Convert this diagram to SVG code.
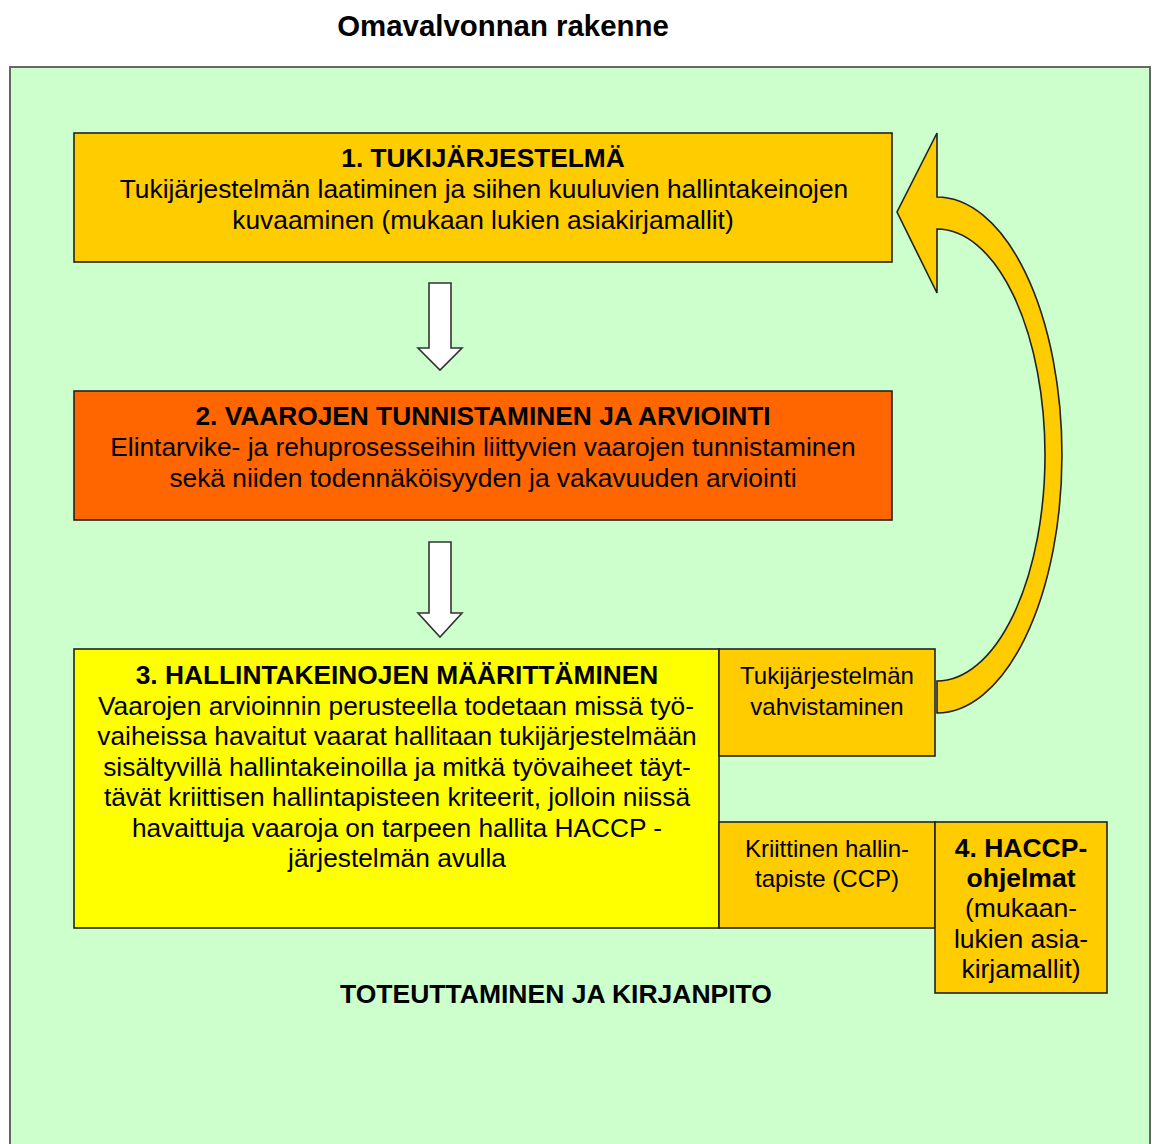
<svg xmlns="http://www.w3.org/2000/svg" width="1152" height="1144" viewBox="0 0 1152 1144">
<style>
  .box { stroke: #222; stroke-width: 1.6; }
  .t { font-family: "Liberation Sans", Arial, sans-serif; font-size: 26.3px; fill: #000; text-anchor: middle; }
  .b { font-weight: bold; }
  .s { font-size: 24px; }
  .h { font-size: 26.5px; }
  .dn { fill: #fff; stroke: #333; stroke-width: 1.6; stroke-linejoin: miter; }
</style>
<rect x="0" y="0" width="1152" height="1144" fill="#fff"/>
<text class="t b" x="503" y="36" style="font-size:29.4px">Omavalvonnan rakenne</text>
<rect x="10" y="67" width="1140" height="1090" fill="#CCFFCC" stroke="#666" stroke-width="2"/>

<g id="connectors">
  <path id="loop-arrow" d="M937,133 L897,212 L937,293 L937,229 A108,226 0 0 1 937,681 L937,713 A125,258 0 0 0 937,197 Z" fill="#FFCC00" stroke="#222" stroke-width="1.6" stroke-linejoin="miter"/>
  <polygon class="dn" points="429,283 451,283 451,348 462,348 440,370 418,348 429,348"/>
  <polygon class="dn" points="429,542 451,542 451,613 462,613 440,637 418,613 429,613"/>
</g>

<g id="node1">
  <rect class="box" x="74" y="133" width="818" height="129" fill="#FFCC00"/>
  <text class="t b" x="483" y="167">1. TUKIJÄRJESTELMÄ</text>
  <text class="t" x="484" y="198">Tukijärjestelmän laatiminen ja siihen kuuluvien hallintakeinojen</text>
  <text class="t" x="483" y="229">kuvaaminen (mukaan lukien asiakirjamallit)</text>
</g>

<g id="node2">
  <rect class="box" x="74" y="391" width="818" height="129" fill="#FF6600"/>
  <text class="t b" x="483" y="425">2. VAAROJEN TUNNISTAMINEN JA ARVIOINTI</text>
  <text class="t" x="483" y="456">Elintarvike- ja rehuprosesseihin liittyvien vaarojen tunnistaminen</text>
  <text class="t" x="483" y="487">sekä niiden todennäköisyyden ja vakavuuden arviointi</text>
</g>

<g id="node3">
  <rect class="box" x="74" y="649" width="645" height="279" fill="#FFFF00"/>
  <text class="t b" x="397" y="684">3. HALLINTAKEINOJEN MÄÄRITTÄMINEN</text>
  <text class="t" x="396" y="715">Vaarojen arvioinnin perusteella todetaan missä työ-</text>
  <text class="t" x="397" y="745">vaiheissa havaitut vaarat hallitaan tukijärjestelmään</text>
  <text class="t" x="397" y="776">sisältyvillä hallintakeinoilla ja mitkä työvaiheet täyt-</text>
  <text class="t" x="397" y="806">tävät kriittisen hallintapisteen kriteerit, jolloin niissä</text>
  <text class="t" x="397" y="837">havaittuja vaaroja on tarpeen hallita HACCP -</text>
  <text class="t" x="397" y="867">järjestelmän avulla</text>
</g>

<g id="node-vahvistaminen">
  <rect class="box" x="719" y="649" width="216" height="107" fill="#FFCC00"/>
  <text class="t s" x="827" y="684">Tukijärjestelmän</text>
  <text class="t s" x="827" y="715">vahvistaminen</text>
</g>

<g id="node-ccp">
  <rect class="box" x="719" y="822" width="216" height="106" fill="#FFCC00"/>
  <text class="t s" x="827" y="857">Kriittinen hallin-</text>
  <text class="t s" x="827" y="887">tapiste (CCP)</text>
</g>

<g id="node4">
  <rect class="box" x="935" y="822" width="172" height="171" fill="#FFCC00"/>
  <text class="t b h" x="1021" y="857">4. HACCP-</text>
  <text class="t b h" x="1021" y="887">ohjelmat</text>
  <text class="t h" x="1021" y="917">(mukaan-</text>
  <text class="t h" x="1021" y="948">lukien asia-</text>
  <text class="t h" x="1021" y="978">kirjamallit)</text>
</g>

<g id="label-toteuttaminen">
  <text class="t b h" x="556" y="1003">TOTEUTTAMINEN JA KIRJANPITO</text>
</g>
</svg>
